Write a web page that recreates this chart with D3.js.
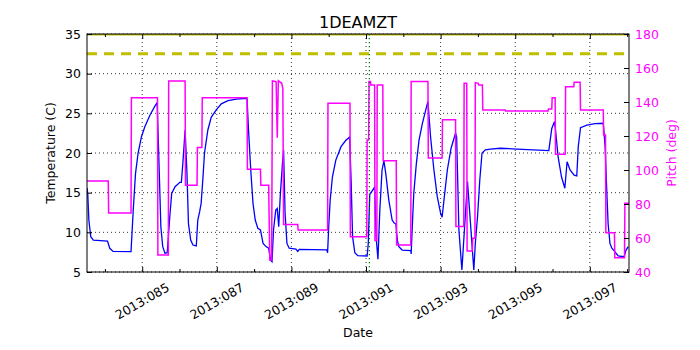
<!DOCTYPE html>
<html>
<head>
<meta charset="utf-8">
<script src="https://cdn.jsdelivr.net/npm/d3@7"></script>
<style>
  body { margin: 0; background: #fff; }
  text { font-family: "DejaVu Sans", sans-serif; }
</style>
</head>
<body>
<div id="graf"></div>
<script>
// Data (day of year 2013)
const tempDays = [83.52, 83.54, 83.57, 83.62, 83.69, 84.07, 84.13, 84.22, 84.70, 84.76, 84.82, 84.89,
  84.98, 85.07, 85.21, 85.34, 85.40, 85.45, 85.50, 85.55, 85.61, 85.67, 85.74, 85.79, 85.88, 86.01,
  86.05, 86.09, 86.15, 86.20, 86.24, 86.30, 86.36, 86.45, 86.49, 86.54, 86.58, 86.63, 86.67, 86.76,
  86.85, 86.98, 87.12, 87.30, 87.52, 87.81, 87.85, 87.91, 87.97, 88.03, 88.10, 88.17, 88.24, 88.32,
  88.39, 88.44, 88.48, 88.52, 88.58, 88.62, 88.66, 88.70, 88.76, 88.79, 88.83, 88.88, 88.94, 89.12,
  89.17, 89.21, 89.95, 89.97, 90.00, 90.04, 90.10, 90.19, 90.33, 90.46, 90.56, 90.60, 90.64, 90.70,
  90.78, 91.03, 91.06, 91.10, 91.17, 91.23, 91.27, 91.32, 91.37, 91.43, 91.48, 91.53, 91.61, 91.70,
  91.75, 91.80, 91.84, 91.88, 91.97, 92.20, 92.21, 92.24, 92.28, 92.35, 92.42, 92.51, 92.60, 92.66,
  92.73, 92.82, 92.91, 93.00, 93.04, 93.09, 93.18, 93.28, 93.40, 93.43, 93.49, 93.57, 93.72, 93.89,
  93.93, 93.99, 94.05, 94.11, 94.20, 94.33, 94.60, 95.05, 95.90, 95.98, 96.05, 96.08, 96.15, 96.24,
  96.33, 96.39, 96.47, 96.58, 96.65, 96.69, 96.75, 96.92, 97.14, 97.36, 97.41, 97.45, 97.49, 97.54,
  97.59, 97.67, 97.76, 97.92, 97.97, 98.03]
const tempVals = [15.6, 14.9, 11.55, 9.45, 9.03, 8.9, 7.99, 7.6, 7.56, 12.8, 17.4, 20.0,
  22.05, 23.3, 24.8, 25.9, 26.35, 18.7, 10.7, 8.2, 7.36, 7.43, 12.0, 14.9, 15.75, 16.3,
  16.3, 18.7, 22.9, 17.4, 11.1, 9.03, 8.4, 8.28, 11.55, 12.6, 13.66, 17.0, 20.0, 22.9,
  24.5, 25.4, 26.2, 26.6, 26.8, 26.9, 22.9, 17.86, 13.66, 11.55, 10.5, 10.3, 8.6, 8.2,
  8.0, 6.5, 6.3, 10.3, 12.8, 13.0, 10.7, 14.5, 18.7, 20.4, 12.4, 8.6, 8.0, 7.9,
  7.6, 7.86, 7.8, 7.43, 10.7, 14.1, 17.0, 19.1, 20.8, 21.6, 22.0, 16.6, 9.45, 7.43,
  7.06, 7.02, 8.6, 14.8, 15.25, 15.7, 9.45, 6.6, 12.8, 17.86, 19.0, 17.4, 14.1, 11.55,
  11.2, 11.05, 9.03, 8.2, 7.77, 7.7, 7.27, 10.7, 14.9, 18.7, 21.6, 23.7, 25.4, 26.5,
  22.05, 17.86, 14.5, 12.4, 11.9, 14.1, 17.86, 20.6, 22.5, 22.0, 10.3, 5.25, 16.4, 5.25,
  8.6, 12.0, 16.6, 20.0, 20.4, 20.5, 20.6, 20.5, 20.3, 23.1, 23.95, 22.9, 19.5, 17.0,
  15.55, 18.9, 17.86, 17.2, 17.1, 20.8, 23.2, 23.5, 23.7, 23.75, 20.8, 15.75, 11.1, 8.6,
  8.0, 7.56, 7.02, 6.93, 7.77, 8.2]

const pitchDays = [83.52, 84.09, 84.10, 84.70, 84.71, 85.41, 85.42, 85.70, 85.71, 86.15, 86.16,
  86.47, 86.48, 86.60, 86.61, 87.81, 87.82, 88.17, 88.18, 88.39, 88.42, 88.47, 88.49, 88.59,
  88.62, 88.65, 88.74, 88.77, 88.79, 89.17, 89.18, 89.97, 89.98, 90.57, 90.58, 91.02, 91.03,
  91.07, 91.08, 91.12, 91.13, 91.23, 91.24, 91.29, 91.30, 91.45, 91.46, 91.81, 91.82, 92.20,
  92.21, 92.66, 92.67, 93.04, 93.05, 93.40, 93.41, 93.62, 93.63, 93.70, 93.71, 93.85, 93.86,
  93.92, 93.93, 94.01, 94.02, 94.12, 94.13, 94.73, 94.74, 95.88, 95.89, 95.98, 95.99, 96.07,
  96.08, 96.34, 96.35, 96.57, 96.58, 96.74, 96.75, 97.36, 97.37, 97.42, 97.43, 97.66, 97.67,
  97.93, 97.94, 98.05]
const pitchVals = [93.5, 93.5, 74.7, 74.7, 142.5, 142.5, 50, 50, 152.4, 152.4, 91,
  91, 113.3, 113.3, 142.5, 142.5, 100.4, 100.4, 91, 91, 47, 47, 152.4, 152,
  119, 152.5, 151, 148, 68, 68, 64.7, 64.7, 139.2, 139.2, 60.8, 60.8, 117.6,
  117.6, 152, 152, 150, 150, 58.5, 58.5, 150, 150, 105.5, 105.5, 55.9, 55.9,
  152, 152, 107, 107, 129.6, 129.6, 66.7, 66.7, 151, 151, 52.4, 52.4, 59.8,
  59.8, 151.4, 151, 150, 150, 135.3, 135.3, 134.7, 134.7, 135.9, 135.9, 142.5, 142.5,
  109.2, 109.2, 149, 149, 151.6, 151.6, 135.3, 135.3, 120.6, 120.6, 63.1, 63.1, 48.4,
  48.4, 80.4, 80.4]

const tempTicks = [5, 10, 15, 20, 25, 30, 35]
const pitchTicks = [40, 60, 80, 100, 120, 140, 160, 180]
const dayTicks = [85, 87, 89, 91, 93, 95, 97]
const dayLabels = ["2013:085", "2013:087", "2013:089", "2013:091", "2013:093", "2013:095", "2013:097"]
const dayMinor = [84, 86, 88, 90, 92, 94, 96, 98]
const limitTemp = 32.5
const planTemp = 35
const markDay = 91.09

const margins = { left: 87, top: 34, right: 71, bottom: 78 }
const anchoTotal = 700
const altoTotal = 350
const ancho = anchoTotal - margins.left - margins.right
const alto = altoTotal - margins.top - margins.bottom

const svg = d3.select("#graf").append("svg")
  .attr("width", anchoTotal)
  .attr("height", altoTotal)
  .style("display", "block")
  .style("background", "#fff")

const g = svg.append("g")
  .attr("transform", `translate(${margins.left}, ${margins.top})`)

g.append("clipPath").attr("id", "clip")
  .append("rect").attr("width", ancho).attr("height", alto)

// Escaladores
const x = d3.scaleLinear().domain([83.52, 98.05]).range([0, ancho])
const y = d3.scaleLinear().domain([5, 35]).range([alto, 0])
const y2 = d3.scaleLinear().domain([40, 180]).range([alto, 0])

// grid
g.append("g").selectAll("line").data(tempTicks).join("line")
  .attr("x1", 0).attr("x2", ancho)
  .attr("y1", d => y(d)).attr("y2", d => y(d))
  .attr("stroke", "#000").attr("stroke-width", 0.8).attr("stroke-dasharray", "1,3")
g.append("g").selectAll("line").data(dayTicks).join("line")
  .attr("x1", d => x(d)).attr("x2", d => x(d))
  .attr("y1", 0).attr("y2", alto)
  .attr("stroke", "#000").attr("stroke-width", 0.8).attr("stroke-dasharray", "1,3")

const plot = g.append("g").attr("clip-path", "url(#clip)")

// temperature
plot.append("path")
  .datum(d3.range(tempDays.length))
  .attr("fill", "none").attr("stroke", "#0000ff").attr("stroke-width", 1.3)
  .attr("d", d3.line().x(i => x(tempDays[i])).y(i => y(tempVals[i])))

// limit lines
plot.append("line")
  .attr("x1", 0).attr("x2", ancho)
  .attr("y1", y(planTemp)).attr("y2", y(planTemp))
  .attr("stroke", "#bfbf00").attr("stroke-width", 3)
plot.append("line")
  .attr("x1", 0).attr("x2", ancho)
  .attr("y1", y(limitTemp)).attr("y2", y(limitTemp))
  .attr("stroke", "#bfbf00").attr("stroke-width", 3).attr("stroke-dasharray", "10,7")

// pitch
plot.append("path")
  .datum(d3.range(pitchDays.length))
  .attr("fill", "none").attr("stroke", "#ff00ff").attr("stroke-width", 1.5)
  .attr("d", d3.line().x(i => x(pitchDays[i])).y(i => y2(pitchVals[i])))

plot.append("line")
  .attr("x1", x(markDay)).attr("x2", x(markDay))
  .attr("y1", 0).attr("y2", alto)
  .attr("stroke", "#008000").attr("stroke-width", 1.3).attr("stroke-dasharray", "1.3,2.7")

// axes
const leftAx = g.append("g")
  .call(d3.axisLeft(y).tickValues(tempTicks).tickSize(-5).tickSizeOuter(0).tickPadding(6))
const rightAx = g.append("g").attr("transform", `translate(${ancho},0)`)
  .call(d3.axisRight(y2).tickValues(pitchTicks).tickSize(-5).tickSizeOuter(0).tickPadding(6))
g.append("g").attr("transform", `translate(0,${alto})`)
  .call(d3.axisBottom(x).tickValues(dayTicks).tickSize(-5).tickSizeOuter(0).tickFormat(""))
g.append("g").attr("transform", `translate(0,${alto})`)
  .call(d3.axisBottom(x).tickValues(dayMinor).tickSize(-3).tickSizeOuter(0).tickFormat(""))
g.append("g")
  .call(d3.axisTop(x).tickValues(dayTicks).tickSize(-5).tickSizeOuter(0).tickFormat(""))
g.append("g")
  .call(d3.axisTop(x).tickValues(dayMinor).tickSize(-3).tickSizeOuter(0).tickFormat(""))

g.selectAll(".domain").remove()
g.selectAll(".tick text").attr("font-size", "12.5px").attr("font-family", "DejaVu Sans")
rightAx.selectAll(".tick text").attr("fill", "#ff00ff")

g.selectAll(".dayLabel").data(dayTicks).join("text")
  .attr("class", "dayLabel")
  .attr("transform", d => `translate(${x(d)},${alto + 29}) rotate(-30)`)
  .attr("text-anchor", "middle").attr("dominant-baseline", "central")
  .attr("font-size", "12.5px")
  .text((d, i) => dayLabels[i])

// frame
g.append("rect").attr("width", ancho).attr("height", alto)
  .attr("fill", "none").attr("stroke", "#000").attr("stroke-width", 1)

// labels
svg.append("text").attr("x", margins.left + ancho / 2).attr("y", 28)
  .attr("text-anchor", "middle").attr("font-size", "16px").text("1DEAMZT")
svg.append("text").attr("x", margins.left + ancho / 2).attr("y", 337)
  .attr("text-anchor", "middle").attr("font-size", "12.5px").text("Date")
svg.append("text")
  .attr("transform", `translate(55,${margins.top + alto / 2}) rotate(-90)`)
  .attr("text-anchor", "middle").attr("font-size", "12.5px").text("Temperature (C)")
svg.append("text")
  .attr("transform", `translate(676,${margins.top + alto / 2}) rotate(-90)`)
  .attr("text-anchor", "middle").attr("font-size", "12.5px").attr("fill", "#ff00ff")
  .text("Pitch (deg)")
</script>
</body>
</html>
